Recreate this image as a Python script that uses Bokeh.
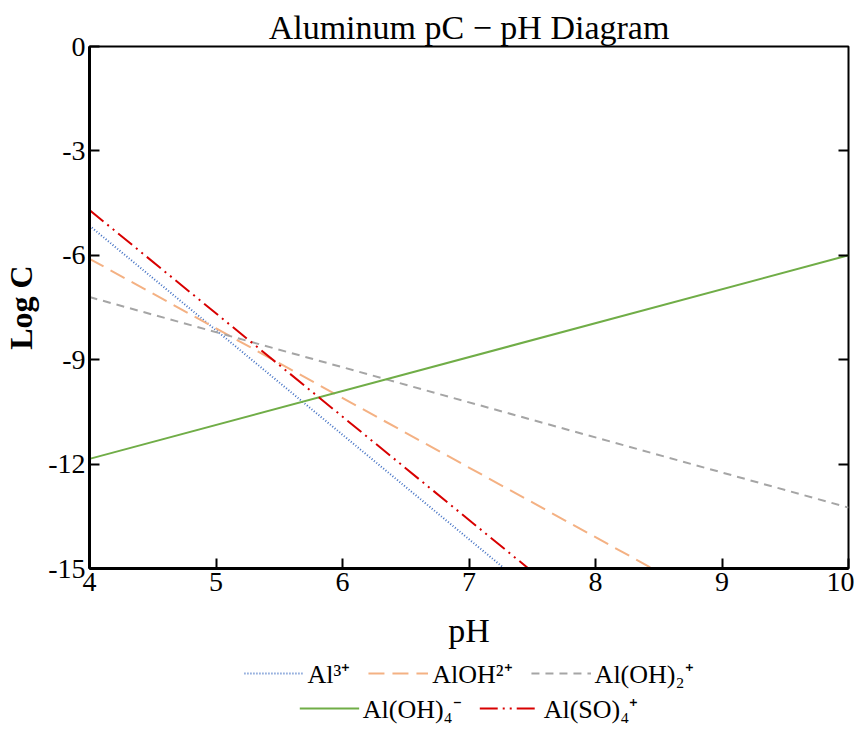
from bokeh.plotting import figure
from bokeh.layouts import column
from bokeh.models import Legend, LegendItem, LinearAxis, FixedTicker, Range1d
from bokeh.embed import file_html
from bokeh.resources import INLINE

# ---- data ----
x_ticks = [4, 5, 6, 7, 8, 9, 10]
y_ticks = [0, -3, -6, -9, -12, -15]
y_tick_labels = ["0", "-3", "-6", "-9", "-12", "-15"]

ph_al3 = [4.0, 7.28]
logc_al3 = [-5.15, -15.0]
ph_aloh = [4.0, 8.45]
logc_aloh = [-6.1, -15.0]
ph_aloh2 = [4.0, 10.0]
logc_aloh2 = [-7.2, -13.25]
ph_aloh4 = [4.0, 10.0]
logc_aloh4 = [-11.85, -6.0]
ph_also4 = [4.0, 7.47]
logc_also4 = [-4.7, -15.0]

names = ["Al³⁺", "AlOH²⁺", "Al(OH)₂⁺", "Al(OH)₄⁻", "Al(SO)₄⁺"]

FONT = "Liberation Serif"

styles = [
    dict(line_color="#4472C4", line_width=2, line_dash="1 2"),
    dict(line_color="#F4B183", line_width=2, line_dash="16 8"),
    dict(line_color="#A5A5A5", line_width=2, line_dash="8 6"),
    dict(line_color="#70AD47", line_width=2),
    dict(line_color="#D80000", line_width=2, line_dash="18 5 2 5 2 5"),
]
series = [(ph_al3, logc_al3), (ph_aloh, logc_aloh), (ph_aloh2, logc_aloh2),
          (ph_aloh4, logc_aloh4), (ph_also4, logc_also4)]

p = figure(width=854, height=655, output_backend="svg", toolbar_location=None,
           x_range=Range1d(4, 10), y_range=Range1d(-15, 0),
           min_border_left=88, min_border_right=6, min_border_top=46,
           min_border_bottom=87,
           title="Aluminum pC \u2212 pH Diagram")

p.title.align = "center"
p.title.text_font = FONT
p.title.text_font_size = "34px"
p.title.text_font_style = "normal"
p.title.text_color = "black"
p.title.standoff = 2

p.xgrid.visible = False
p.ygrid.visible = False
p.outline_line_color = "black"
p.outline_line_width = 2
p.outline_line_alpha = 1.0
p.background_fill_color = "white"
p.border_fill_color = "white"

xa = p.xaxis[0]
xa.ticker = FixedTicker(ticks=x_ticks)
xa.axis_label = "pH"
xa.axis_label_text_font = FONT
xa.axis_label_text_font_size = "34px"
xa.axis_label_text_font_style = "normal"
xa.axis_label_text_color = "black"
xa.axis_label_standoff = 18
xa.major_label_text_font = FONT
xa.major_label_text_font_size = "28px"
xa.major_label_standoff = 4
xa.major_tick_in = 10
xa.major_tick_out = 0
xa.minor_tick_line_color = None
xa.axis_line_width = 3
xa.major_tick_line_width = 2
xa.axis_line_color = "black"
xa.major_tick_line_color = "black"
xa.major_label_text_color = "black"

ya = p.yaxis[0]
ya.ticker = FixedTicker(ticks=y_ticks)
ya.major_label_overrides = {t: l for t, l in zip(y_ticks, y_tick_labels)}
ya.axis_label = "Log C"
ya.axis_label_text_font = FONT
ya.axis_label_text_font_size = "32px"
ya.axis_label_text_font_style = "bold"
ya.axis_label_text_color = "black"
ya.axis_label_standoff = 6
ya.major_label_text_font = FONT
ya.major_label_text_font_size = "28px"
ya.major_label_standoff = 4
ya.major_tick_in = 10
ya.major_tick_out = 0
ya.minor_tick_line_color = None
ya.axis_line_width = 3
ya.major_tick_line_width = 2
ya.axis_line_color = "black"
ya.major_tick_line_color = "black"
ya.major_label_text_color = "black"

right_ticks = y_ticks[1:-1]
ra = LinearAxis(ticker=FixedTicker(ticks=right_ticks),
                major_label_overrides={t: "" for t in right_ticks},
                major_label_standoff=0,
                major_tick_in=10, major_tick_out=0, major_tick_line_width=2,
                minor_tick_line_color=None, axis_line_color=None)
p.add_layout(ra, "right")

for (xs, ys), st in zip(series, styles):
    p.line(xs, ys, **st)

# ---- legend strip below the chart ----
lf = figure(width=854, height=75, output_backend="svg", toolbar_location=None,
            x_range=Range1d(0, 1), y_range=Range1d(0, 1),
            min_border_left=88, min_border_right=6, min_border_top=0,
            min_border_bottom=0)
lf.xaxis.visible = False
lf.yaxis.visible = False
lf.xgrid.visible = False
lf.ygrid.visible = False
lf.outline_line_color = None
lf.background_fill_color = "white"
lf.border_fill_color = "white"

leg_r = [lf.line(xs, ys, **st) for (xs, ys), st in zip(series, styles)]

def mk_legend(items, loc, margin):
    return Legend(items=items, orientation="horizontal", location=loc,
                  glyph_width=60, glyph_height=20, label_standoff=4, spacing=18,
                  padding=0, margin=margin, border_line_color=None,
                  background_fill_alpha=0,
                  label_text_font=FONT, label_text_font_size="26px",
                  label_text_color="black")

leg1 = mk_legend([LegendItem(label=names[i], renderers=[leg_r[i]]) for i in range(3)],
                 "top_center", 0)
leg2 = mk_legend([LegendItem(label=names[i], renderers=[leg_r[i]]) for i in range(3, 5)],
                 "bottom_center", 4)
lf.add_layout(leg1, "center")
lf.add_layout(leg2, "center")

layout = column(p, lf, spacing=0)
open("out.html", "w").write(file_html(layout, INLINE))
